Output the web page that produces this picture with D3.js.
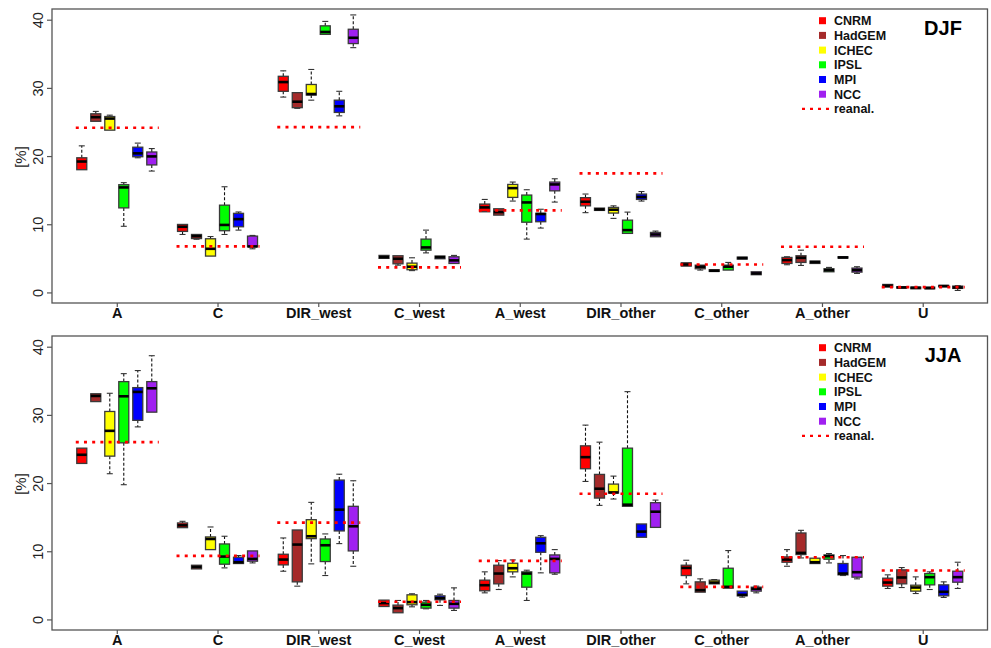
<!DOCTYPE html>
<html>
<head>
<meta charset="utf-8">
<script src="https://cdn.jsdelivr.net/npm/d3@7"></script>
<style>
  html, body { margin: 0; padding: 0; background: #fff; }
  svg { display: block; font-family: "Liberation Sans", Arial, sans-serif; }
</style>
</head>
<body>
<svg id="chart" width="991" height="648"></svg>
<script>
// Circulation type frequencies [%], boxplot stats per category: [low, q1, median, q3, high]
const categories = ["A", "C", "DIR_west", "C_west", "A_west", "DIR_other", "C_other", "A_other", "U"];
const models = ["CNRM", "HadGEM", "ICHEC", "IPSL", "MPI", "NCC"];
const modelColors = ["#ff0000", "#a52a2a", "#ffff00", "#00ff00", "#0000ff", "#a020f0"];
const yTicks = [0, 10, 20, 30, 40];

// DJF
const djfCNRM = [[18.0,18.0,19.2,19.75,21.5],[8.5,8.95,9.63,9.97,9.97],[28.65,29.5,30.85,31.7,32.5],[5.0,5.0,5.18,5.43,5.43],[11.83,11.83,12.47,12.96,13.64],[11.7,12.7,13.3,13.9,14.43],[3.86,3.86,4.1,4.35,4.35],[4.06,4.25,4.74,5.13,5.23],[0.78,0.78,0.98,1.17,1.22]];
const djfHadGEM = [[25.1,25.1,25.7,26.2,26.55],[7.8,7.9,8.26,8.5,8.5],[27.0,27.1,27.97,29.3,29.3],[4.0,4.2,4.94,5.38,5.38],[11.34,11.34,11.78,12.27,12.27],[12.03,12.03,12.18,12.37,12.37],[3.28,3.47,3.77,4.0,4.0],[3.96,4.4,5.08,5.38,6.2],[0.64,0.64,0.73,0.83,0.83]];
const djfICHEC = [[23.8,23.8,25.5,25.8,26.0],[5.33,5.33,6.4,7.87,8.2],[28.2,28.95,29.1,30.5,32.7],[3.2,3.33,3.77,4.3,5.08],[13.4,13.94,15.3,15.84,16.19],[10.86,11.64,12.13,12.47,12.7],[3.08,3.08,3.18,3.33,3.33],[4.25,4.25,4.45,4.6,4.6],[0.54,0.54,0.68,0.78,0.78]];
const djfIPSL = [[9.7,12.4,15.4,15.8,16.1],[8.5,9.05,9.9,12.8,15.5],[37.85,37.85,38.2,39.1,39.75],[5.8,6.2,6.6,7.82,9.14],[7.82,10.3,13.2,14.28,15.06],[8.66,8.66,9.14,10.6,11.78],[3.28,3.28,3.77,4.0,4.4],[3.03,3.03,3.28,3.47,3.67],[0.54,0.54,0.64,0.78,0.78]];
const djfMPI = [[19.75,19.9,20.4,21.3,21.9],[9.14,9.63,10.75,11.6,11.8],[25.9,26.4,27.3,28.2,29.5],[4.94,4.94,5.18,5.33,5.33],[9.44,10.37,11.5,11.6,12.2],[13.4,13.64,14.0,14.43,14.8],[4.89,4.89,5.04,5.18,5.18],[5.04,5.04,5.13,5.23,5.23],[0.83,0.83,0.93,1.03,1.03]];
const djfNCC = [[17.8,18.7,19.95,20.6,21.1],[6.4,6.7,6.75,8.26,8.36],[35.9,36.5,37.35,38.6,40.7],[4.25,4.25,4.7,5.23,5.43],[13.25,14.9,15.84,16.19,16.67],[8.17,8.17,8.5,8.8,9.0],[2.6,2.6,2.79,3.03,3.03],[2.79,2.98,3.28,3.57,3.77],[0.29,0.59,0.73,0.93,1.0]];
const djfReanal = [24.15, 6.75, 24.25, 3.67, 12.03, 17.46, 4.1, 6.7, 0.78];

// JJA
const jjaCNRM = [[22.88,22.88,24.15,25.12,25.12],[13.46,13.46,13.8,14.15,14.39],[7.07,8.0,8.78,9.56,11.95],[1.9,1.9,2.39,2.83,2.83],[3.9,4.2,5.02,5.76,6.98],[20.24,22.1,23.8,25.46,28.5],[5.22,6.44,7.56,7.95,8.68],[7.8,8.39,8.78,9.17,10.24],[4.54,4.88,5.41,6.05,6.54]];
const jjaHadGEM = [[31.95,31.95,32.78,33.1,33.1],[7.41,7.41,7.7,7.95,7.95],[4.88,5.51,10.98,13.12,13.12],[0.98,0.98,1.66,2.1,2.78],[4.39,5.22,6.73,7.95,8.63],[16.73,17.8,19.17,21.27,26.0],[4.0,4.0,4.29,5.51,5.95],[9.02,9.51,9.76,12.68,13.07],[4.68,5.22,6.15,7.27,7.61]];
const jjaICHEC = [[21.37,23.95,27.66,30.5,33.17],[10.24,10.24,11.8,12.1,13.56],[8.15,11.85,12.2,14.63,17.17],[1.85,2.15,2.54,3.61,3.76],[6.24,6.98,7.51,8.24,8.73],[17.66,18.54,18.63,19.85,21.02],[5.22,5.22,5.41,5.76,5.85],[8.2,8.2,8.39,8.98,8.98],[3.8,4.15,4.68,5.02,6.24]];
const jjaIPSL = [[19.76,25.9,32.73,34.88,36.05],[7.56,8.1,9.22,11.07,12.2],[6.44,8.49,10.88,11.8,12.54],[1.56,1.66,2.15,2.54,2.78],[2.78,4.73,6.73,6.98,7.22],[16.59,16.59,16.83,25.12,33.41],[4.59,4.59,4.78,7.51,10.1],[8.29,8.83,9.27,9.46,9.66],[4.39,5.07,6.2,6.73,6.98]];
const jjaMPI = [[28.24,29.2,33.37,34.0,36.5],[8.2,8.2,8.39,9.12,9.37],[11.12,12.98,16.1,20.44,21.3],[2.05,2.88,3.12,3.46,3.7],[6.83,9.85,11.17,12.05,12.29],[12.05,12.05,12.88,14.0,14.0],[3.27,3.46,3.61,4.15,4.15],[6.44,6.54,6.73,8.2,9.37],[3.22,3.46,4.05,5.07,5.51]];
const jjaNCC = [[30.4,30.4,33.9,34.88,38.68],[8.29,8.54,8.88,10.05,10.05],[7.8,10.05,13.66,16.59,20.34],[1.32,1.66,2.29,2.78,4.63],[6.63,6.83,8.88,9.46,10.24],[13.5,13.5,15.8,17.12,17.5],[3.9,4.15,4.49,4.73,4.88],[5.95,6.2,6.93,9.12,9.17],[4.54,5.46,6.2,7.07,8.39]];
const jjaReanal = [26.0, 9.32, 14.2, 2.59, 8.59, 18.44, 4.78, 9.12, 7.17];

const panels = [
  { title: "DJF", series: [djfCNRM, djfHadGEM, djfICHEC, djfIPSL, djfMPI, djfNCC], reanal: djfReanal, top: 9, bottom: 303 },
  { title: "JJA", series: [jjaCNRM, jjaHadGEM, jjaICHEC, jjaIPSL, jjaMPI, jjaNCC], reanal: jjaReanal, top: 336, bottom: 630 }
];

const svg = d3.select("#chart");
const left = 52, right = 987.5;

const x = d3.scalePoint().domain(categories).range([left, right]).padding(0.643);
const xm = d3.scalePoint().domain(models).range([-35, 35]);
const boxW = 10;
const frameColor = "#555";

panels.forEach(p => {
  const y = d3.scaleLinear().domain([-1.55, 41.57]).range([p.bottom, p.top]);
  const g = svg.append("g");

  // y axis: ticks and rotated labels
  const yAxis = g.append("g").attr("transform", `translate(${left},0)`)
    .call(d3.axisLeft(y).tickValues(yTicks).tickSize(5).tickFormat(d3.format("d")));
  yAxis.select(".domain").remove();
  yAxis.selectAll(".tick line").attr("stroke", frameColor).attr("stroke-width", 1.2);
  yAxis.selectAll(".tick text")
    .attr("x", 0).attr("y", 0).attr("dy", null)
    .attr("transform", "translate(-9,0) rotate(-90)")
    .attr("text-anchor", "middle")
    .attr("font-size", 14.5).attr("fill", "#222")
    .attr("font-family", "Liberation Sans, Arial, sans-serif");

  // x axis: category ticks and bold labels
  const xAxis = g.append("g").attr("transform", `translate(0,${p.bottom})`)
    .call(d3.axisBottom(x).tickSize(4).tickPadding(4));
  xAxis.select(".domain").remove();
  xAxis.selectAll(".tick line").attr("stroke", frameColor).attr("stroke-width", 1.2);
  xAxis.selectAll(".tick text")
    .attr("y", 15).attr("dy", null)
    .attr("font-size", 14.5).attr("font-weight", "bold").attr("fill", "#111")
    .attr("font-family", "Liberation Sans, Arial, sans-serif");

  // y axis title
  const midY = (p.top + p.bottom) / 2 + 1;
  g.append("text")
    .attr("transform", `translate(26,${midY}) rotate(-90)`)
    .attr("text-anchor", "middle")
    .attr("font-size", 15).attr("fill", "#222")
    .text("[%]");

  // boxplots
  p.series.forEach((ser, mi) => {
    const color = modelColors[mi];
    const mg = g.append("g");
    ser.forEach((s, ci) => {
      const cx = x(categories[ci]) + xm(models[mi]);
      const [lo, q1, med, q3, hi] = s;
      const bg = mg.append("g");
      // whiskers
      if (hi > q3 + 0.05) {
        bg.append("line").attr("x1", cx).attr("x2", cx).attr("y1", y(q3)).attr("y2", y(hi))
          .attr("stroke", "#111").attr("stroke-width", 1.1).attr("stroke-dasharray", "3,2");
        bg.append("line").attr("x1", cx - 3).attr("x2", cx + 3).attr("y1", y(hi)).attr("y2", y(hi))
          .attr("stroke", "#333").attr("stroke-width", 1.1);
      }
      if (lo < q1 - 0.05) {
        bg.append("line").attr("x1", cx).attr("x2", cx).attr("y1", y(q1)).attr("y2", y(lo))
          .attr("stroke", "#111").attr("stroke-width", 1.1).attr("stroke-dasharray", "3,2");
        bg.append("line").attr("x1", cx - 3).attr("x2", cx + 3).attr("y1", y(lo)).attr("y2", y(lo))
          .attr("stroke", "#333").attr("stroke-width", 1.1);
      }
      // box
      bg.append("rect")
        .attr("x", cx - boxW / 2).attr("width", boxW)
        .attr("y", y(q3)).attr("height", Math.max(1, y(q1) - y(q3)))
        .attr("fill", color).attr("stroke", "#3a3a3a").attr("stroke-width", 1.3);
      // median
      bg.append("line").attr("x1", cx - boxW / 2).attr("x2", cx + boxW / 2)
        .attr("y1", y(med)).attr("y2", y(med))
        .attr("stroke", "#000").attr("stroke-width", 2.6);
    });
  });

  // reanalysis reference lines, drawn over the boxes
  g.append("g").selectAll("line").data(p.reanal).join("line")
    .attr("x1", (d, i) => x(categories[i]) - 41)
    .attr("x2", (d, i) => x(categories[i]) + 42)
    .attr("y1", d => y(d)).attr("y2", d => y(d))
    .attr("stroke", "#ff0000").attr("stroke-width", 2.6)
    .attr("stroke-dasharray", "3,5.2");

  // frame
  g.append("rect").attr("x", left).attr("y", p.top)
    .attr("width", right - left).attr("height", p.bottom - p.top)
    .attr("fill", "none").attr("stroke", frameColor).attr("stroke-width", 1.3);

  // legend
  const lg = g.append("g");
  const ly0 = p.top + 11.7;
  const step = 14.7;
  models.forEach((m, i) => {
    const ly = ly0 + i * step;
    lg.append("rect").attr("x", 819).attr("y", ly - 3.5).attr("width", 7).attr("height", 7)
      .attr("fill", modelColors[i]);
    lg.append("text").attr("x", 834).attr("y", ly + 4.5)
      .attr("font-size", 12.5).attr("font-weight", "bold").attr("fill", "#111").text(m);
  });
  const ry = ly0 + 6 * step;
  lg.append("line").attr("x1", 802).attr("x2", 830).attr("y1", ry).attr("y2", ry)
    .attr("stroke", "#ff0000").attr("stroke-width", 2.2).attr("stroke-dasharray", "3,5");
  lg.append("text").attr("x", 834).attr("y", ry + 4.5)
    .attr("font-size", 12.5).attr("font-weight", "bold").attr("fill", "#111").text("reanal.");

  // season title
  g.append("text").attr("x", 943).attr("y", p.top + 25.5)
    .attr("text-anchor", "middle").attr("font-size", 20).attr("font-weight", "bold")
    .attr("fill", "#000").text(p.title);
});
</script>
</body>
</html>
